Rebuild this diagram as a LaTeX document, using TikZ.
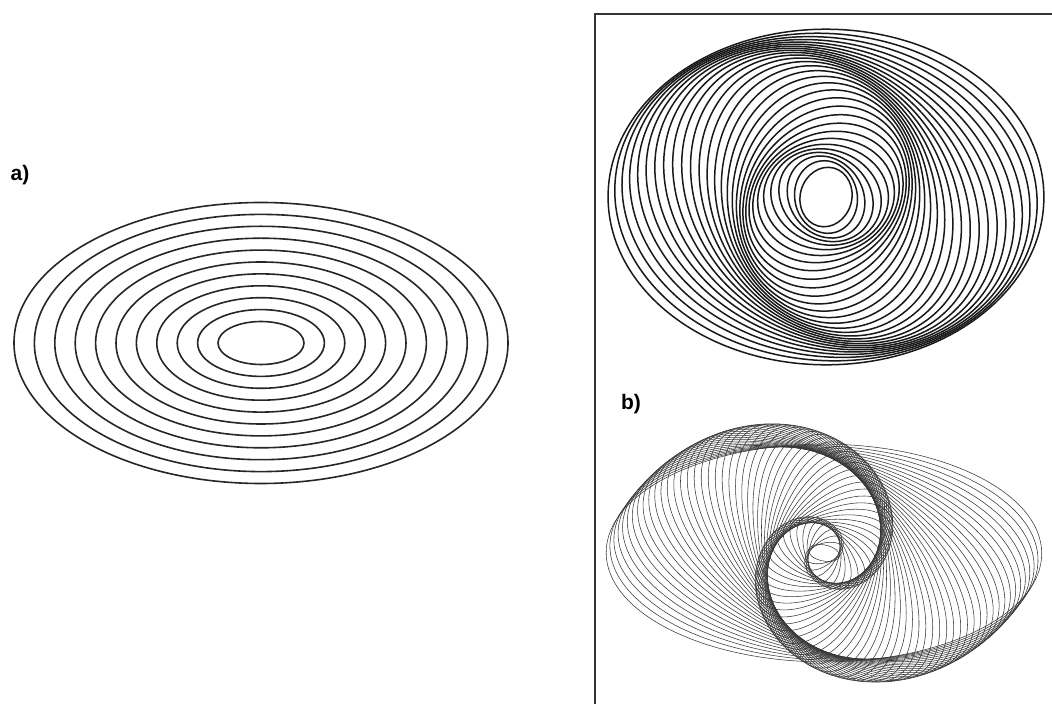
\documentclass[tikz,border=0pt]{standalone}
\usepackage{fontspec}
\setsansfont{Liberation Sans}
\begin{document}
\begin{tikzpicture}[x=1pt,y=1pt,
  lbl/.style={font=\sffamily\bfseries\fontsize{21}{24}\selectfont, inner sep=0pt},
  ringA/.style={line width=1.6pt, black!85},
  ringB/.style={line width=1.5pt, black!90},
  ringC/.style={line width=0.55pt, black!78}]
\useasboundingbox (0,0) rectangle (1052,704);
\fill[white] (0,0) rectangle (1052,704);
% panel a
\coordinate (A) at (261,361);
\foreach \k in {0,...,10}{
  \pgfmathsetmacro\ra{43+20.4*\k}
  \pgfmathsetmacro\rb{21.5+11.9*\k}
  \draw[ringA] (A) ellipse [x radius=\ra, y radius=\rb];
}
\node[lbl] (la) at (20,529) {a)};
% frame of panel b
\coordinate (F1) at (595,0);
\coordinate (F2) at (595,690);
\coordinate (F3) at (1052,690);
\draw[line width=1.6pt, black!80] (F1) -- (F2) -- (F3);
% top spiral
\coordinate (T) at (826,507);
\foreach \k in {0,...,29}{
  \pgfmathsetmacro\ra{30+6.48*\k}
  \pgfmathsetmacro\rb{(0.86-0.09*\k/29)*\ra}
  \pgfmathsetmacro\ang{145*ln(\ra/218)}
  \draw[ringB, rotate around={\ang:(T)}] (T) ellipse [x radius=\ra, y radius=\rb];
}
\node[lbl] (lb) at (631,300) {b)};
% bottom spiral
\coordinate (B) at (824,151);
\foreach \k in {0,...,57}{
  \pgfmathsetmacro\ra{16+3.54*\k}
  \pgfmathsetmacro\rb{0.5*\ra}
  \pgfmathsetmacro\ang{143*ln(\ra/218)}
  \draw[ringC, rotate around={\ang:(B)}] (B) ellipse [x radius=\ra, y radius=\rb];
}
\end{tikzpicture}
\end{document}
